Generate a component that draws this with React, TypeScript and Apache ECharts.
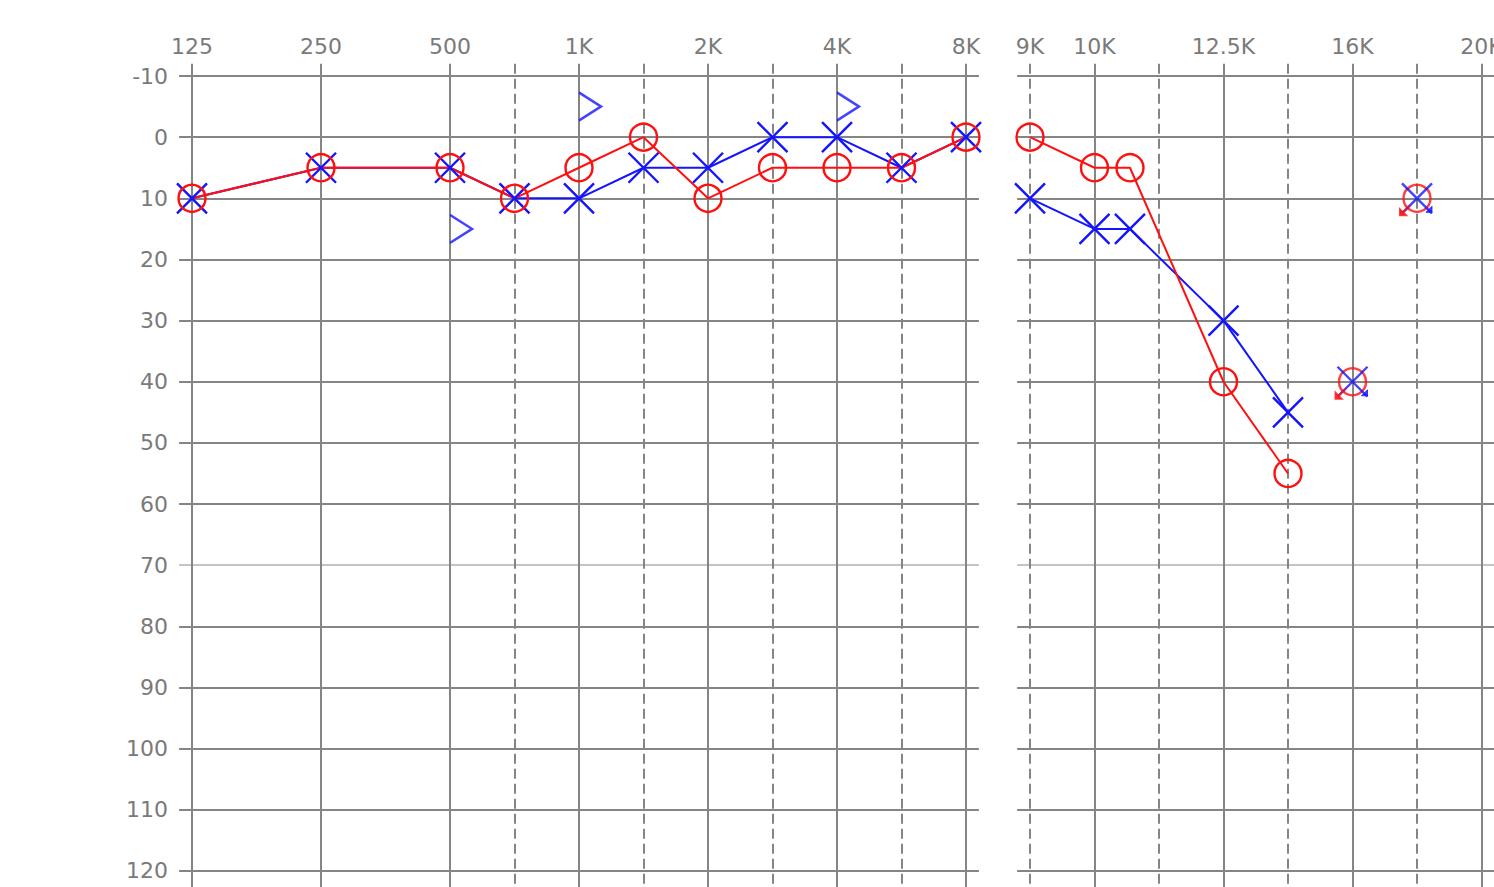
import React, { useEffect, useRef } from "react";
import * as echarts from "echarts";

// ---- data (x = position in half-octave steps on each panel, y = dB HL) ----
// left panel: 125 Hz .. 8 kHz
const leftTickPos = [0, 2, 4, 6, 8, 10, 12];
const leftTickLabels = ["125", "250", "500", "1K", "2K", "4K", "8K"];
const leftDashedPos = [5, 7, 9, 11]; // 750, 1.5K, 3K, 6K
const leftFreqPos = [0, 2, 4, 5, 6, 7, 8, 9, 10, 11, 12];
const leftFreqNames = ["125", "250", "500", "750", "1K", "1.5K", "2K", "3K", "4K", "6K", "8K"];
const leftRightEarAC = [10, 5, 5, 10, 5, 0, 10, 5, 5, 5, 0];
const leftLeftEarAC = [10, 5, 5, 10, 10, 5, 5, 0, 0, 5, 0];
const leftBonePos = [4, 6, 10];
const leftLeftEarBC = [15, -5, -5];

// right panel: 9 kHz .. 20 kHz
const rightTickPos = [1, 3, 5, 7];
const rightTickLabels = ["10K", "12.5K", "16K", "20K"];
const rightDashedPos = [0, 2, 4, 6];
const rightDashedLabels = ["9K", "", "", ""];
const rightFreqPos = [0, 1, 1.55, 3, 4];
const rightRightEarAC = [0, 5, 5, 40, 55];
const rightLeftEarAC = [10, 15, 15, 30, 45];
const rightNoRespPos = [5, 6];
const rightNoRespRight = [40, 10];
const rightNoRespLeft = [40, 10];

// y ticks
const dbTicks = [-10, 0, 10, 20, 30, 40, 50, 60, 70, 80, 90, 100, 110, 120];

// ---- styling ----
const UNIT = 5; // axis units per half-octave step
const PX_PER_UNIT = 12.9;
const PX_PER_DB = 6.115;
const Y_MIN = -12;
const Y_MAX = 132;
const GRID_TOP = 76 - 2 * PX_PER_DB;
const GRID_H = (Y_MAX - Y_MIN) * PX_PER_DB;
const RED = "#ff1010";
const BLUE = "#1414ff";
const GRID_COLOR = "#858585";
const LABEL_COLOR = "#7a7a7a";
const FONT = "DejaVu Sans";

const X_SYMBOL = "path://M0,0L20,20M20,0L0,20";
const BC_SYMBOL = "path://M0,0L20,12L0,24";
const RED_NR = "path://M10,0L3,7M0,10L0,4L6,10Z";
const BLUE_NR = "path://M6,0L6,6L0,6Z";

function xColors(max: number, positions: number[]) {
  const arr: string[] = [];
  for (let v = -1; v <= max; v++) {
    const hit = positions.some((p) => p * UNIT === v);
    arr.push(hit ? GRID_COLOR : "transparent");
  }
  return arr;
}

function yColors() {
  const arr: string[] = [];
  for (let v = Y_MIN; v <= Y_MAX; v += 2) {
    if (dbTicks.indexOf(v) >= 0) arr.push(v === 70 ? "#c4c4c4" : GRID_COLOR);
    else arr.push("transparent");
  }
  return arr;
}

function labelFrom(pos: number[], labels: string[]) {
  return (v: number) => {
    for (let i = 0; i < pos.length; i++) {
      if (Math.abs(pos[i] * UNIT - v) < 1e-6) return labels[i];
    }
    return "";
  };
}

function pts(xs: number[], ys: number[]) {
  return xs.map((x, i) => [x * UNIT, ys[i]]);
}

export default function App() {
  const ref = useRef<HTMLDivElement>(null);
  useEffect(() => {
    if (!ref.current) return;
    const chart = echarts.init(ref.current, null, { renderer: "svg" });
    const leftMax = 12 * UNIT + 1;
    const rightMax = 41;
    const baseX = (gridIndex: number, max: number) => ({
      gridIndex,
      type: "value" as const,
      position: "top" as const,
      min: -1,
      max,
      interval: 1,
      axisLine: { show: false },
      axisTick: { show: false },
    });
    const labelStyle = { color: LABEL_COLOR, fontSize: 22, fontFamily: FONT };
    const yBase = (gridIndex: number, showLabel: boolean) => ({
      gridIndex,
      type: "value" as const,
      inverse: true,
      min: Y_MIN,
      max: Y_MAX,
      interval: 2,
      axisLine: { show: false },
      axisTick: { show: false },
      axisLabel: {
        show: showLabel,
        ...labelStyle,
        margin: 11,
        formatter: (v: number) => (dbTicks.indexOf(v) >= 0 ? String(v) : ""),
      },
      splitLine: { show: true, lineStyle: { color: yColors(), width: 2 } },
    });
    const xSym = {
      symbol: X_SYMBOL,
      symbolSize: 30,
      itemStyle: { color: "transparent", borderColor: BLUE, borderWidth: 2.4 },
    };
    const oSym = {
      symbol: "circle",
      symbolSize: 27,
      itemStyle: { color: "transparent", borderColor: RED, borderWidth: 2.4 },
    };
    const dashed = { width: 2, type: [10, 5] as number[] };
    chart.setOption({
      animation: false,
      backgroundColor: "#ffffff",
      grid: [
        { left: 192 - PX_PER_UNIT, top: GRID_TOP, width: (leftMax + 1) * PX_PER_UNIT, height: GRID_H },
        { left: 1030 - PX_PER_UNIT, top: GRID_TOP, width: (rightMax + 1) * PX_PER_UNIT, height: GRID_H },
      ],
      xAxis: [
        {
          ...baseX(0, leftMax),
          axisLabel: { ...labelStyle, margin: 6, formatter: labelFrom(leftTickPos, leftTickLabels) },
          splitLine: { show: true, lineStyle: { color: xColors(leftMax, leftTickPos), width: 2 } },
        },
        {
          ...baseX(0, leftMax),
          axisLabel: { show: false },
          splitLine: { show: true, lineStyle: { color: xColors(leftMax, leftDashedPos), ...dashed } },
        },
        {
          ...baseX(1, rightMax),
          axisLabel: { ...labelStyle, margin: 6, formatter: labelFrom(rightTickPos, rightTickLabels) },
          splitLine: { show: true, lineStyle: { color: xColors(rightMax, rightTickPos), width: 2 } },
        },
        {
          ...baseX(1, rightMax),
          axisLabel: { ...labelStyle, margin: 6, formatter: labelFrom(rightDashedPos, rightDashedLabels) },
          splitLine: { show: true, lineStyle: { color: xColors(rightMax, rightDashedPos), ...dashed } },
        },
      ],
      yAxis: [yBase(0, true), yBase(1, false)],
      series: [
        {
          name: "Left ear AC " + leftFreqNames.join(","),
          type: "line",
          xAxisIndex: 0,
          yAxisIndex: 0,
          data: pts(leftFreqPos, leftLeftEarAC),
          lineStyle: { color: BLUE, width: 2 },
          ...xSym,
          silent: true,
        },
        {
          name: "Right ear AC",
          type: "line",
          xAxisIndex: 0,
          yAxisIndex: 0,
          data: pts(leftFreqPos, leftRightEarAC),
          lineStyle: { color: RED, width: 2 },
          ...oSym,
          silent: true,
        },
        {
          name: "Left ear BC",
          type: "scatter",
          xAxisIndex: 0,
          yAxisIndex: 0,
          data: pts(leftBonePos, leftLeftEarBC),
          symbol: BC_SYMBOL,
          symbolSize: [22, 28],
          symbolOffset: [11, 0],
          itemStyle: { color: "transparent", borderColor: BLUE, borderWidth: 2.4 },
          silent: true,
        },
        {
          name: "Left ear HF",
          type: "line",
          xAxisIndex: 2,
          yAxisIndex: 1,
          data: pts(rightFreqPos, rightLeftEarAC),
          lineStyle: { color: BLUE, width: 2 },
          ...xSym,
          silent: true,
        },
        {
          name: "Right ear HF",
          type: "line",
          xAxisIndex: 2,
          yAxisIndex: 1,
          data: pts(rightFreqPos, rightRightEarAC),
          lineStyle: { color: RED, width: 2 },
          ...oSym,
          silent: true,
        },
        {
          name: "Right ear NR",
          type: "scatter",
          xAxisIndex: 2,
          yAxisIndex: 1,
          data: pts(rightNoRespPos, rightNoRespRight),
          ...oSym,
          silent: true,
        },
        {
          name: "Left ear NR",
          type: "scatter",
          xAxisIndex: 2,
          yAxisIndex: 1,
          data: pts(rightNoRespPos, rightNoRespLeft),
          ...xSym,
          silent: true,
        },
        {
          name: "Right NR arrow",
          type: "scatter",
          xAxisIndex: 2,
          yAxisIndex: 1,
          data: pts(rightNoRespPos, rightNoRespRight),
          symbol: RED_NR,
          symbolSize: 10,
          symbolOffset: [-12, 12],
          itemStyle: { color: RED, borderColor: RED, borderWidth: 2 },
          silent: true,
        },
        {
          name: "Left NR arrow",
          type: "scatter",
          xAxisIndex: 2,
          yAxisIndex: 1,
          data: pts(rightNoRespPos, rightNoRespLeft),
          symbol: BLUE_NR,
          symbolSize: 6,
          symbolOffset: [12, 11],
          itemStyle: { color: BLUE, borderColor: BLUE, borderWidth: 1 },
          silent: true,
        },
      ],
    });
    return () => chart.dispose();
  }, []);
  return (
    <div
      ref={ref}
      style={{ position: "fixed", left: 0, top: 0, width: 1600, height: 960, background: "#fff" }}
    />
  );
}
